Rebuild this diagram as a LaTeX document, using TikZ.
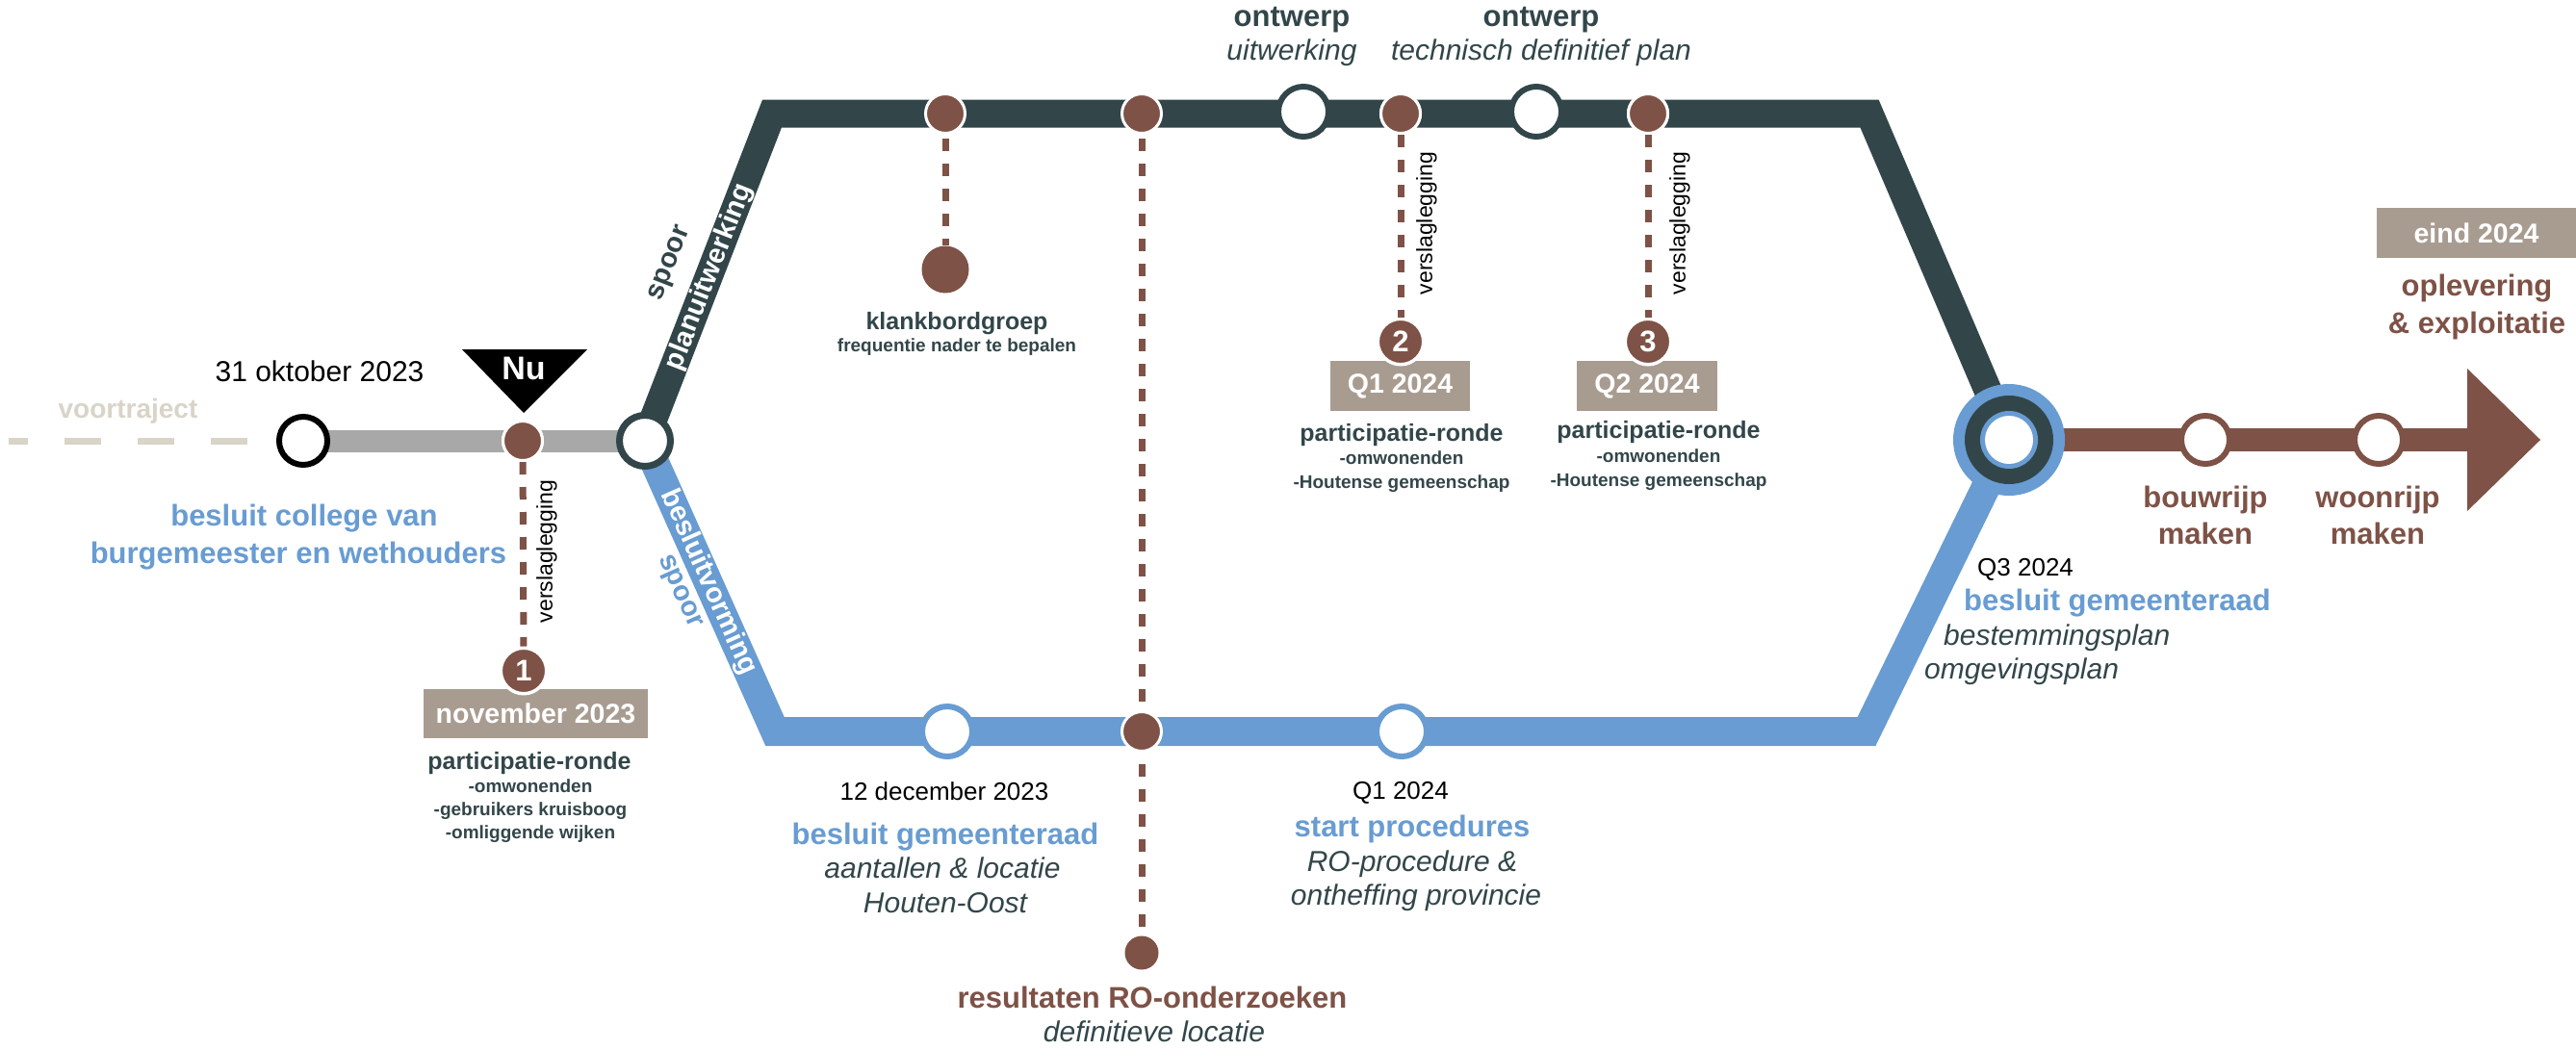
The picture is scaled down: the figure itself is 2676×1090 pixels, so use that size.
\documentclass[tikz,border=0pt]{standalone}
\usepackage{fontspec}
\setmainfont{Liberation Sans}
\definecolor{dk}{RGB}{50,70,74}
\definecolor{bl}{RGB}{104,156,210}
\definecolor{br}{RGB}{126,82,70}
\definecolor{gr}{RGB}{168,168,168}
\definecolor{tp}{RGB}{168,156,145}
\definecolor{vt}{RGB}{217,212,200}
\newcommand{\myfs}[1]{\fontsize{#1}{#1}\selectfont}
\tikzset{
  lbl/.style={inner sep=0pt, anchor=base},
  bluebold/.style={lbl, text=bl, font=\myfs{31}\bfseries},
  darkbold/.style={lbl, text=dk, font=\myfs{31}\bfseries},
  darkit/.style={lbl, text=dk, font=\myfs{30}\itshape},
  brownbold/.style={lbl, text=br, font=\myfs{31}\bfseries},
  blackreg/.style={lbl, text=black, font=\myfs{26}},
  partic/.style={lbl, text=dk, font=\myfs{25}\bfseries},
  smallitem/.style={lbl, text=dk, font=\myfs{19}\bfseries},
  vers/.style={inner sep=0pt, anchor=center, rotate=90, text=black, font=\myfs{23}},
  linelbl/.style={inner sep=0pt, anchor=center, font=\myfs{29}\bfseries},
  datebox/.style={fill=tp, inner sep=0pt, text=white, font=\myfs{28.5}\bfseries},
  brdot/.style={circle, fill=br, draw=white, line width=3pt, minimum size=41pt, inner sep=0pt},
  opencirc/.style={circle, fill=white, draw=#1, line width=6pt, minimum size=52pt, inner sep=0pt},
  numcirc/.style={circle, fill=br, draw=white, line width=3.5pt, minimum size=47.5pt, inner sep=0pt, text=white, font=\myfs{31}\bfseries},
  dashline/.style={br, line width=7pt, dash pattern=on 13pt off 13pt},
}
\begin{document}
\begin{tikzpicture}[x=1pt,y=-1pt]
\fill[white] (0,0) rectangle (2676,1090);
\useasboundingbox (0,0) rectangle (2676,1090);

% coordinates of the tracks
\coordinate (S) at (315,458);
\coordinate (J) at (670,458);
\coordinate (TL) at (802,118);
\coordinate (TR) at (1942,118);
\coordinate (BC) at (2087,457);
\coordinate (BL) at (805,760);
\coordinate (BR) at (1939,760);
\coordinate (AB) at (2565,457);
\coordinate (V0) at (9,458);
\coordinate (V1) at (257,458);

% voortraject dashes
\draw[vt, line width=7pt, dash pattern=on 38pt off 38pt] (V1) -- (V0);

% node placeholders for dashed connectors (drawn first)
\path (982,118) coordinate (t1c) (1186,118) coordinate (t2c) (1455,118) coordinate (t3c)
      (1712,118) coordinate (t4c) (543,458) coordinate (g1c);

\node[circle, fill=br, minimum size=49pt, inner sep=0pt] (kdot) at (982,280) {};
\node[circle, fill=br, minimum size=35pt, inner sep=0pt] (rdot) at (1186,990) {};

\draw[dashline] (t1c) -- (kdot);
\draw[dashline] (t2c) -- (rdot);

% tracks
\draw[gr, line width=23pt] (S) -- (J);
\draw[dk, line width=29pt, line join=miter] (J) -- (TL) -- (TR) -- (BC);
\draw[bl, line width=30pt, line join=miter] (J) -- (BL) -- (BR) -- (BC);
\draw[br, line width=24pt] (BC) -- (AB);
\fill[br] (2563,383) -- (2639,457) -- (2563,531) -- cycle;

% date boxes
\node[datebox, minimum width=233pt, minimum height=51pt] (box1) at (556.5,741.5) {november 2023};
\node[datebox, minimum width=145pt, minimum height=52pt] (box2) at (1454.5,401) {Q1 2024};
\node[datebox, minimum width=146pt, minimum height=52pt] (box3) at (1711,401) {Q2 2024};
\node[datebox, minimum width=207pt, minimum height=52pt] (box4) at (2572.5,242) {eind 2024};

% number circles
\node[numcirc] (n1) at (544,697) {1};
\node[numcirc] (n2) at (1455,355) {2};
\node[numcirc] (n3) at (1712,355) {3};

% station dots
\node[brdot] (g1) at (g1c) {};
\node[brdot] (t1) at (t1c) {};
\node[brdot] (t2) at (t2c) {};
\node[brdot] (t3) at (t3c) {};
\node[brdot] (t4) at (t4c) {};
\node[brdot] (b2) at (1186,760) {};

\draw[dashline] (g1) -- (n1);
\draw[dashline] (t3) -- (n2);
\draw[dashline] (t4) -- (n3);
\node[brdot] at (g1c) {};
\node[brdot] at (t3c) {};
\node[brdot] at (t4c) {};

% open circles
\node[opencirc=black, minimum size=50pt] (start) at (S) {};
\node[opencirc=dk, line width=7pt, minimum size=53pt] (junc) at (J) {};
\node[opencirc=dk] (o1) at (1354,116) {};
\node[opencirc=dk] (o2) at (1596,116) {};
\node[opencirc=bl] (bo1) at (984,760) {};
\node[opencirc=bl] (bo2) at (1456,760) {};
\node[opencirc=br, minimum size=50pt] (r1) at (2291,457) {};
\node[opencirc=br, minimum size=50pt] (r2) at (2471,457) {};

% big interchange circle
\node[circle, fill=bl, minimum size=116pt, inner sep=0pt] (bigA) at (BC) {};
\node[circle, fill=dk, minimum size=92pt, inner sep=0pt] (bigB) at (BC) {};
\node[circle, fill=bl, minimum size=60pt, inner sep=0pt] (bigC) at (BC) {};
\node[circle, fill=white, minimum size=50pt, inner sep=0pt] (bigD) at (BC) {};

% Nu marker
\fill[black] (480,363) -- (610,363) -- (544,429) -- cycle;
\node[lbl, text=white, font=\myfs{34}\bfseries] (nu) at (544,394) {Nu};

% labels along the tracks
\node[linelbl, text=white, rotate=68.7] (planu) at (737,288) {planuitwerking};
\node[linelbl, text=dk, rotate=68.7] (spoor1) at (697,274) {spoor};
\node[linelbl, text=white, rotate=-66] (beslv) at (736,605) {besluitvorming};
\node[linelbl, text=bl, rotate=-66] (spoor2) at (705,615) {spoor};

% verslaglegging
\node[vers] (vs1) at (568,573) {verslaglegging};
\node[vers] (vs2) at (1482,232) {verslaglegging};
\node[vers] (vs3) at (1745,232) {verslaglegging};

% left texts
\node[lbl, text=vt, font=\myfs{28}\bfseries] (voor) at (133,434) {voortraject};
\node[lbl, text=black, font=\myfs{30}] (d31) at (332,396) {31 oktober 2023};
\node[bluebold] (bc1) at (316,546) {besluit college van};
\node[bluebold] (bc2) at (310,585) {burgemeester en wethouders};
\node[partic] (p1) at (550,799) {participatie-ronde};
\node[smallitem] (p1a) at (551,823) {-omwonenden};
\node[smallitem] (p1b) at (551,847) {-gebruikers kruisboog};
\node[smallitem] (p1c) at (551,871) {-omliggende wijken};

% top texts
\node[partic] (kl) at (994,342) {klankbordgroep};
\node[smallitem] (kl2) at (994,365) {frequentie nader te bepalen};
\node[darkbold] (ow1) at (1342,27) {ontwerp};
\node[darkit] (ow1b) at (1342,62) {uitwerking};
\node[darkbold] (ow2) at (1601,27) {ontwerp};
\node[darkit] (ow2b) at (1601,62) {technisch definitief plan};
\node[partic] (p2) at (1456,458) {participatie-ronde};
\node[smallitem] (p2a) at (1456,482) {-omwonenden};
\node[smallitem] (p2b) at (1456,507) {-Houtense gemeenschap};
\node[partic] (p3) at (1723,455) {participatie-ronde};
\node[smallitem] (p3a) at (1723,480) {-omwonenden};
\node[smallitem] (p3b) at (1723,505) {-Houtense gemeenschap};

% bottom texts
\node[blackreg] (d12) at (981,831) {12 december 2023};
\node[bluebold] (bg1) at (982,877) {besluit gemeenteraad};
\node[darkit] (bg1a) at (979,912) {aantallen \& locatie};
\node[darkit] (bg1b) at (982,948) {Houten-Oost};
\node[blackreg] (q1b) at (1455,830) {Q1 2024};
\node[bluebold] (sp) at (1467,869) {start procedures};
\node[darkit] (spa) at (1467,905) {RO-procedure \&};
\node[darkit] (spb) at (1471,940) {ontheffing provincie};
\node[brownbold] (res) at (1197,1047) {resultaten RO-onderzoeken};
\node[darkit] (resa) at (1199,1082) {definitieve locatie};

% right texts
\node[blackreg, anchor=base west] (q3) at (2054,598) {Q3 2024};
\node[bluebold, anchor=base west] (bg2) at (2040,634) {besluit gemeenteraad};
\node[darkit, anchor=base west] (bg2a) at (2019,670) {bestemmingsplan};
\node[darkit, anchor=base west] (bg2b) at (1999,705) {omgevingsplan};
\node[brownbold] (bw1) at (2291,527) {bouwrijp};
\node[brownbold] (bw2) at (2291,565) {maken};
\node[brownbold] (wr1) at (2470,527) {woonrijp};
\node[brownbold] (wr2) at (2470,565) {maken};
\node[brownbold] (opl1) at (2573,307) {oplevering};
\node[brownbold] (opl2) at (2573,346) {\& exploitatie};
\end{tikzpicture}
\end{document}
